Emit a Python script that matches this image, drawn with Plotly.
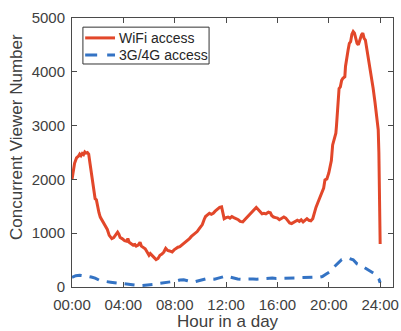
import plotly.graph_objects as go

# Concurrent viewers over one day, WiFi access
wifi_hours = [
    0.0, 0.1, 0.2, 0.35, 0.5, 0.6, 0.7, 0.8, 0.9, 1.0, 1.1, 1.2, 1.3, 1.4, 1.5,
    1.6, 1.7, 1.8, 1.9, 2.0, 2.1, 2.2, 2.35, 2.5, 2.6, 2.75, 2.9, 3.0, 3.1, 3.25,
    3.4, 3.55, 3.65, 3.75, 3.9, 4.0, 4.1, 4.25, 4.35, 4.45, 4.6, 4.75, 4.9, 5.0,
    5.15, 5.3, 5.4, 5.55, 5.7, 5.85, 6.0, 6.1, 6.25, 6.4, 6.55, 6.7, 6.85, 7.0,
    7.15, 7.3, 7.45, 7.6, 7.8, 7.95, 8.1, 8.25, 8.4, 8.55, 8.7, 8.85, 9.0, 9.15,
    9.3, 9.45, 9.6, 9.75, 9.9, 10.0, 10.15, 10.3, 10.4, 10.55, 10.7, 10.85, 11.0,
    11.15, 11.3, 11.5, 11.65, 11.75, 11.85, 12.0, 12.15, 12.3, 12.45, 12.6, 12.8,
    12.95, 13.1, 13.3, 13.45, 13.6, 13.8, 14.0, 14.2, 14.35, 14.5, 14.65, 14.8,
    14.95, 15.1, 15.3, 15.45, 15.55, 15.7, 15.85, 16.0, 16.15, 16.3, 16.5, 16.65,
    16.8, 16.95, 17.1, 17.25, 17.4, 17.55, 17.7, 17.85, 18.0, 18.15, 18.3, 18.45,
    18.6, 18.75, 18.85, 19.0, 19.15, 19.3, 19.45, 19.6, 19.7, 19.85, 20.0, 20.1,
    20.2, 20.3, 20.45, 20.55, 20.6, 20.65, 20.75, 20.8, 20.9, 21.0, 21.1, 21.25,
    21.3, 21.38, 21.5, 21.6, 21.7, 21.8, 21.9, 22.0, 22.1, 22.2, 22.3, 22.4,
    22.55, 22.65, 22.75, 22.85, 22.95, 23.05, 23.15, 23.3, 23.45, 23.6, 23.75,
    23.85, 23.9, 23.95, 24.0,
]
wifi_viewers = [
    2000, 2150, 2300, 2400, 2430, 2470, 2440, 2480, 2460, 2510, 2490, 2500, 2470,
    2300, 2150, 1950, 1800, 1640, 1620, 1480, 1380, 1300, 1230, 1170, 1140, 1070,
    960, 920, 900, 920, 960, 1020, 980, 920, 900, 870, 860, 850, 900, 830, 800,
    780, 790, 760, 780, 830, 760, 730, 710, 650, 590, 620, 580, 540, 510, 530, 590,
    610, 650, 720, 680, 670, 650, 690, 720, 740, 750, 780, 810, 830, 860, 900, 940,
    970, 990, 1030, 1080, 1110, 1160, 1260, 1310, 1340, 1370, 1350, 1370, 1410,
    1440, 1480, 1490, 1350, 1270, 1290, 1300, 1280, 1310, 1290, 1270, 1250, 1220,
    1210, 1250, 1290, 1330, 1380, 1440, 1480, 1440, 1390, 1360, 1370, 1360, 1390,
    1380, 1330, 1300, 1290, 1280, 1250, 1270, 1300, 1280, 1240, 1190, 1180, 1200,
    1230, 1240, 1220, 1250, 1210, 1250, 1270, 1240, 1230, 1270, 1360, 1480, 1570,
    1650, 1760, 1840, 1990, 2010, 2120, 2230, 2350, 2640, 2760, 2860, 3000, 3230,
    3560, 3690, 3720, 3840, 3880, 3910, 4100, 4270, 4400, 4530, 4560, 4700, 4750,
    4720, 4620, 4530, 4500, 4580, 4690, 4720, 4620, 4590, 4450, 4280, 4130, 3950,
    3700, 3430, 3150, 2920, 2500, 1900, 800,
]

# Concurrent viewers over one day, 3G/4G access
cell_hours = [
    0.0, 0.3, 0.6, 0.9, 1.2, 1.5, 1.8, 2.1, 2.4, 2.7, 3.0, 3.3, 3.6, 3.9, 4.2,
    4.5, 4.8, 5.1, 5.4, 5.7, 6.0, 6.3, 6.6, 6.9, 7.2, 7.5, 7.8, 8.1, 8.4, 8.7,
    9.0, 9.3, 9.6, 9.9, 10.2, 10.5, 10.8, 11.1, 11.4, 11.7, 12.0, 12.3, 12.6,
    12.9, 13.2, 13.5, 13.8, 14.1, 14.4, 14.7, 15.0, 15.3, 15.6, 15.9, 16.2, 16.5,
    16.8, 17.1, 17.4, 17.7, 18.0, 18.3, 18.6, 18.9, 19.2, 19.5, 19.8, 20.1, 20.4,
    20.7, 21.0, 21.3, 21.6, 21.9, 22.2, 22.5, 22.8, 23.1, 23.4, 23.7, 23.9, 24.0,
]
cell_viewers = [
    180, 210, 220, 215, 200, 185, 165, 130, 110, 100, 90, 80, 75, 70, 60, 45, 35,
    30, 28, 30, 35, 45, 60, 70, 75, 80, 90, 110, 130, 135, 115, 95, 100, 120, 145,
    155, 150, 145, 165, 185, 205, 185, 165, 150, 145, 150, 155, 150, 145, 150, 160,
    170, 165, 160, 160, 165, 170, 165, 165, 170, 175, 180, 185, 185, 180, 195, 240,
    285, 370, 450, 510, 525, 530, 505, 430, 400, 355, 320, 270, 225, 150, 80,
]

series_names = ["WiFi access", "3G/4G access"]
tick_hours = [0, 4, 8, 12, 16, 20, 24]
tick_labels = ["00:00", "04:00", "08:00", "12:00", "16:00", "20:00", "24:00"]
y_ticks = [0, 1000, 2000, 3000, 4000, 5000]

FONT = "Liberation Sans, Arial, Helvetica, sans-serif"
AXIS_COLOR = "#4a4a4a"
TEXT_COLOR = "#404040"
WIFI_COLOR = "#E2472A"
CELL_COLOR = "#3473C4"
CELL_DASH = "10px,8px"

fig = go.Figure()
fig.add_trace(go.Scatter(
    x=wifi_hours, y=wifi_viewers, mode="lines", name=series_names[0],
    line=dict(color=WIFI_COLOR, width=3), showlegend=False,
))
fig.add_trace(go.Scatter(
    x=cell_hours, y=cell_viewers, mode="lines", name=series_names[1],
    line=dict(color=CELL_COLOR, width=3, dash=CELL_DASH), showlegend=False,
))

axis_common = dict(
    showline=True, linecolor=AXIS_COLOR, linewidth=1, mirror="allticks",
    ticks="inside", ticklen=5, tickcolor=AXIS_COLOR, tickwidth=1,
    showgrid=False, zeroline=False, automargin=False,
    tickfont=dict(family=FONT, size=15, color=TEXT_COLOR),
)

fig.update_xaxes(range=[0, 25], tickvals=tick_hours, ticktext=tick_labels,
                 ticklabelstandoff=4, **axis_common)
fig.update_yaxes(range=[0, 5000], tickvals=y_ticks, ticklabelstandoff=3,
                 **axis_common)

# Boxed legend in the upper-left corner of the axes (paper coordinates)
legend_box = dict(x0=0.034, x1=0.427, y0=0.829, y1=0.966)
legend_rows = [0.926, 0.862]
sample_x = (0.041, 0.134)
text_x = 0.140

shapes = [dict(type="rect", xref="paper", yref="paper", **legend_box,
               line=dict(color="#333333", width=1), fillcolor="white",
               layer="above")]
shapes.append(dict(type="line", xref="paper", yref="paper",
                   x0=sample_x[0], x1=sample_x[1],
                   y0=legend_rows[0], y1=legend_rows[0],
                   line=dict(color=WIFI_COLOR, width=3), layer="above"))
shapes.append(dict(type="line", xref="paper", yref="paper",
                   x0=sample_x[0], x1=sample_x[1],
                   y0=legend_rows[1], y1=legend_rows[1],
                   line=dict(color=CELL_COLOR, width=3, dash="12px,10px"),
                   layer="above"))

annotations = [
    dict(text=name, xref="paper", yref="paper", x=text_x, y=row,
         xanchor="left", yanchor="middle", showarrow=False,
         font=dict(family=FONT, size=14, color="#262626"))
    for name, row in zip(series_names, legend_rows)
]
annotations += [
    dict(text="Hour in a day", xref="paper", yref="paper",
         x=0.486, y=-0.128, xanchor="center", yanchor="middle",
         showarrow=False, font=dict(family=FONT, size=17, color=TEXT_COLOR)),
    dict(text="Concurrent Viewer Number", xref="paper", yref="paper",
         x=-0.171, y=0.558, xanchor="center", yanchor="middle",
         textangle=-90, showarrow=False,
         font=dict(family=FONT, size=17, color=TEXT_COLOR)),
]

fig.update_layout(
    width=401, height=331,
    margin=dict(l=72, r=8, t=18, b=44),
    paper_bgcolor="white", plot_bgcolor="white",
    font=dict(family=FONT, color=TEXT_COLOR),
    showlegend=False,
    shapes=shapes,
    annotations=annotations,
)

fig.write_html("out.html")
